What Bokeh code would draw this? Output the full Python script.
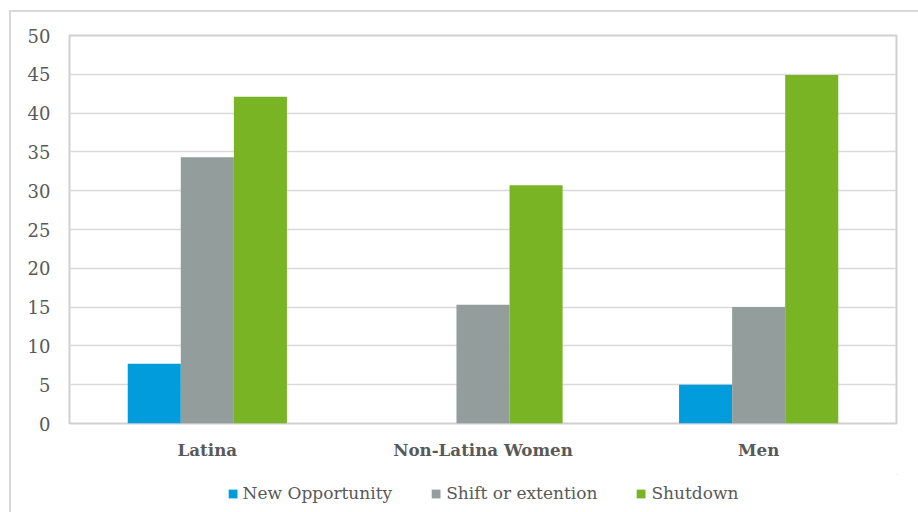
from bokeh.plotting import figure
from bokeh.layouts import column
from bokeh.models import ColumnDataSource, FactorRange, Range1d, Legend, LegendItem, FixedTicker
from bokeh.transform import dodge
from bokeh.embed import file_html
from bokeh.resources import INLINE

categories = ["Latina", "Non-Latina Women", "Men"]
series_names = ["New Opportunity", "Shift or extention", "Shutdown"]
new_opportunity = [7.7, 0.0, 5.0]
shift_or_extention = [34.3, 15.3, 15.0]
shutdown = [42.1, 30.7, 44.9]
y_ticks = [0, 5, 10, 15, 20, 25, 30, 35, 40, 45, 50]
colors = ["#009cdc", "#939d9c", "#78b424"]

FONT = "DejaVu Serif"
TXT = "#595959"

source = ColumnDataSource(dict(cat=categories, a=new_opportunity, b=shift_or_extention, c=shutdown))

p = figure(x_range=FactorRange(*categories, range_padding=0), y_range=Range1d(0, 50),
           width=907, height=458, output_backend="svg", toolbar_location=None,
           min_border_left=58, min_border_right=22, min_border_top=23, min_border_bottom=47)

bw = 0.1925
renderers = []
for col, off, color in zip(["a", "b", "c"], [-bw, 0, bw], colors):
    r = p.vbar(x=dodge("cat", off, range=p.x_range), top=col, width=bw, source=source,
               fill_color=color, line_color=None)
    renderers.append(r)

p.outline_line_color = "#d0d0d0"
p.outline_line_width = 2
p.xgrid.grid_line_color = None
p.ygrid.grid_line_color = "#d9d9d9"
p.ygrid.grid_line_width = 1.5
p.yaxis.ticker = FixedTicker(ticks=y_ticks)

for ax in (p.xaxis, p.yaxis):
    ax.axis_line_color = None
    ax.major_tick_line_color = None
    ax.minor_tick_line_color = None
    ax.major_label_text_font = FONT
    ax.major_label_text_color = TXT

p.yaxis.major_label_text_font_size = "18px"
p.xaxis.major_label_text_font_size = "16.7px"
p.yaxis.major_label_standoff = 13
p.xaxis.major_label_standoff = 10
p.xaxis.major_label_text_font_style = "bold"

# legend strip (swatch glyphs sit outside the strip's visible range)
lf = figure(width=907, height=42, output_backend="svg", toolbar_location=None,
            x_range=Range1d(0, 1), y_range=Range1d(0, 1),
            min_border_left=8, min_border_right=0, min_border_top=4, min_border_bottom=0)
lf.axis.visible = False
lf.grid.visible = False
lf.outline_line_color = None
hidden = ColumnDataSource(dict(x=[10], top=[11], bottom=[10]))
leg_renderers = [lf.vbar(x="x", top="top", bottom="bottom", width=0.1, source=hidden,
                         fill_color=c, line_color=None) for c in colors]
legend = Legend(items=[LegendItem(label=n, renderers=[r]) for n, r in zip(series_names, leg_renderers)],
                orientation="horizontal", location="center",
                label_text_font=FONT, label_text_color=TXT, label_text_font_size="17px",
                glyph_width=11, glyph_height=11, spacing=38, label_standoff=5,
                border_line_color=None, background_fill_alpha=0, padding=2, margin=0)
lf.add_layout(legend, "center")

layout = column(p, lf, spacing=0, margin=(10, 0, 0, 9),
                styles={"border-top": "2px solid #d9d9d9", "border-left": "2px solid #d9d9d9"})

open("out.html", "w").write(file_html(layout, INLINE))
